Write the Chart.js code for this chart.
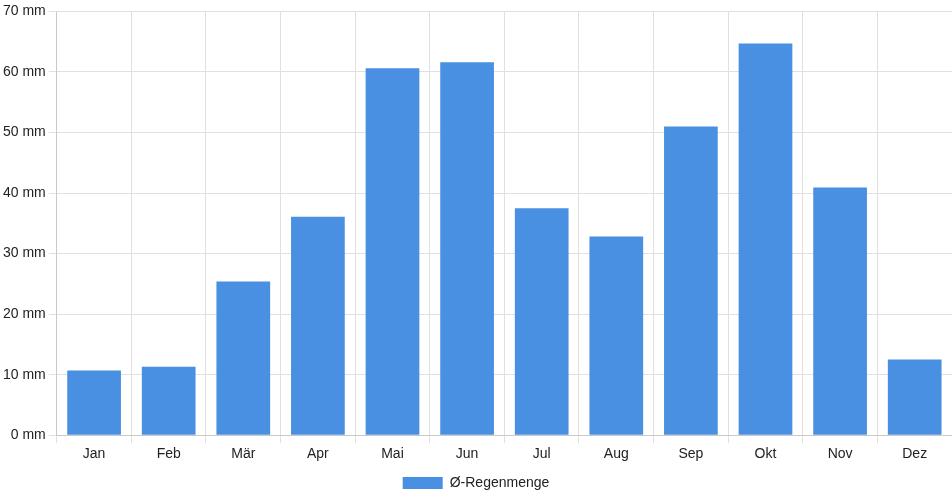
<!DOCTYPE html>
<html><head><meta charset="utf-8">
<script src="https://cdn.jsdelivr.net/npm/chart.js@4"></script>
<style>html,body{margin:0;padding:0;background:#fff}#wrap{width:952px;height:500px}</style>
</head><body><div id="wrap"><canvas id="c"></canvas></div>
<script>
const months = ["Jan","Feb","Mär","Apr","Mai","Jun","Jul","Aug","Sep","Okt","Nov","Dez"];
const rain = [10.7, 11.3, 25.4, 36.1, 60.6, 61.6, 37.5, 32.8, 51.0, 64.7, 40.9, 12.5];
const seriesLabel = "Ø-Regenmenge";
Chart.defaults.font.family = "'Liberation Sans', Arial, sans-serif";
Chart.defaults.font.size = 14;
Chart.defaults.color = "#222";
new Chart(document.getElementById('c'), {
  type: 'bar',
  data: { labels: months, datasets: [{ label: seriesLabel, data: rain, backgroundColor: '#4a90e2' }] },
  options: {
    responsive: true, maintainAspectRatio: false, animation: false,
    layout: { padding: { top: 4, right: 0 } },
    scales: {
      y: { min: 0, max: 70, ticks: { stepSize: 10, callback: v => v + ' mm' }, grid: { color: '#e0e0e0' } },
      x: { grid: { color: '#e0e0e0' } }
    },
    plugins: { legend: { position: 'bottom', labels: { boxWidth: 40, boxHeight: 12 } }, tooltip: { enabled: false } }
  }
});
</script></body></html>
